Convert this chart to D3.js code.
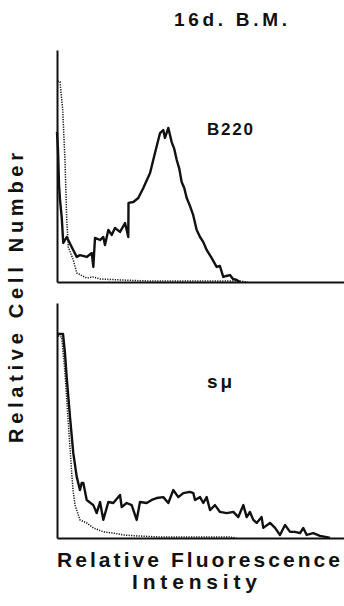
<!DOCTYPE html>
<html>
<head>
<meta charset="utf-8">
<script src="https://cdn.jsdelivr.net/npm/d3@7"></script>
<style>
  body { margin: 0; background: #fff; }
  text { font-family: "Liberation Sans", Arial, sans-serif; font-weight: bold; fill: #111; }
</style>
</head>
<body>
<div id="chart"></div>
<script>
// channel (0-256) and relative count (0-100)
var b220Channel = [0, 0.9, 1.8, 2.7, 4.2, 5.6, 8.7, 13.1, 17.6, 20.5, 26.5, 31.0, 32.4, 33.9, 38.4, 41.3, 42.8, 45.8, 48.8, 51.7, 56.2, 60.7, 63.6, 63.8, 68.1, 72.5, 77.0, 83.0, 87.4, 91.9, 94.8, 96.3, 99.3, 102.3, 104.5, 106.8, 109.0, 111.2, 113.5, 115.7, 118.6, 121.5, 124.6, 127.6, 130.5, 133.5, 138.0, 142.4, 145.3, 148.3, 151.0, 154.3, 157.0, 160.3, 163.2];
var b220Count = [64.7, 56.9, 41.8, 35.3, 28.0, 16.8, 19.4, 15.1, 10.8, 11.6, 10.8, 12.5, 6.5, 19.0, 18.1, 19.4, 15.9, 22.4, 20.3, 23.3, 21.6, 25.4, 19.4, 34.1, 34.5, 36.2, 40.5, 47.0, 55.6, 64.2, 65.5, 62.1, 66.4, 60.3, 57.5, 52.6, 49.0, 43.1, 40.5, 36.2, 32.8, 28.8, 22.4, 19.4, 17.2, 13.8, 10.3, 6.5, 6.9, 2.2, 2.6, 3.0, 1.3, 0.9, 0];

var b220CtrlChannel = [0.5, 2.7, 5.1, 7.1, 8.7, 10.1, 14.5, 17.6, 26.5, 32.0, 38.4, 56.0, 83.0, 163.0, 170.0];
var b220CtrlCount = [86.6, 86.3, 74.1, 52.6, 26.7, 15.1, 9.5, 3.9, 1.7, 2.2, 1.3, 0.9, 0.4, 0.4, 0];

var smuChannel = [0, 5.4, 7.1, 8.7, 11.6, 14.5, 17.6, 20.5, 22.0, 23.5, 26.5, 32.4, 35.4, 38.4, 41.3, 45.8, 50.2, 56.2, 57.7, 62.2, 66.6, 71.1, 74.0, 80.0, 84.5, 88.9, 94.8, 99.3, 103.7, 108.2, 112.7, 118.6, 121.6, 123.1, 127.6, 130.5, 133.5, 136.5, 140.9, 145.4, 151.4, 157.3, 161.7, 166.2, 169.2, 172.1, 175.1, 178.1, 182.5, 184.0, 190.0, 194.5, 198.9, 203.4, 207.9, 212.3, 216.8, 219.7, 222.7, 228.6, 234.6, 240.6, 243.5];
var smuCount = [86.8, 86.8, 78.7, 68.1, 51.5, 36.2, 26.0, 20.4, 23.4, 23.4, 16.2, 14.0, 10.6, 15.3, 7.7, 15.3, 14.9, 18.3, 13.2, 14.9, 14.0, 7.7, 15.3, 14.9, 16.2, 17.0, 17.4, 14.9, 20.4, 17.4, 19.1, 19.6, 19.1, 16.2, 17.4, 14.9, 17.4, 11.9, 14.0, 11.1, 10.6, 11.1, 8.9, 14.0, 8.9, 11.1, 7.7, 6.4, 8.9, 4.3, 6.4, 4.3, 1.3, 5.5, 2.6, 2.6, 2.1, 4.3, 1.3, 2.1, 0.9, 0.4, 0];

var smuCtrlChannel = [0.9, 4.2, 7.1, 10.1, 13.1, 14.3, 16.1, 20.5, 26.5, 32.4, 41.3, 50.2, 59.1, 71.1, 91.9, 154.0, 160.0];
var smuCtrlCount = [86.0, 85.5, 70.2, 48.9, 27.7, 20.4, 14.0, 7.7, 6.4, 4.3, 2.6, 2.1, 1.3, 0.9, 0.4, 0.4, 0];

var panelLabels = ["B220", "s\u00a0\u03bc"];

var svg = d3.select("#chart").append("svg")
  .attr("width", 344)
  .attr("height", 606);

var x = d3.scaleLinear().domain([0, 256]).range([57, 344]);

var panels = [
  { top: 50, bottom: 282, sample: [b220Channel, b220Count], ctrl: [b220CtrlChannel, b220CtrlCount], label: panelLabels[0], lx: 207, ly: 135, lw: 46, fs: 17 },
  { top: 303, bottom: 538, sample: [smuChannel, smuCount], ctrl: [smuCtrlChannel, smuCtrlCount], label: panelLabels[1], lx: 207, ly: 388, lw: 25, fs: 19 }
];

panels.forEach(function(p) {
  var y = d3.scaleLinear().domain([0, 100]).range([p.bottom, p.top]);

  svg.append("g")
    .attr("transform", `translate(0, ${p.bottom})`)
    .call(d3.axisBottom(x).tickValues([]).tickSizeOuter(0))
    .select(".domain").attr("stroke", "#111").attr("stroke-width", 2);

  svg.append("g")
    .attr("transform", `translate(${x(0)}, 0)`)
    .call(d3.axisLeft(y).tickValues([]).tickSizeOuter(0))
    .select(".domain").attr("stroke", "#111").attr("stroke-width", 2);

  var line = d3.line()
    .x(d => x(d[0]))
    .y(d => y(d[1]));

  var ctrlPts = p.ctrl[0].map((c, i) => [c, p.ctrl[1][i]]);
  svg.append("path")
    .attr("d", line(ctrlPts))
    .attr("fill", "none")
    .attr("stroke", "#111")
    .attr("stroke-width", 1.5)
    .attr("stroke-dasharray", "1.2,1.3");

  var pts = p.sample[0].map((c, i) => [c, p.sample[1][i]]);
  svg.append("path")
    .attr("d", line(pts))
    .attr("fill", "none")
    .attr("stroke", "#111")
    .attr("stroke-width", 2.4)
    .attr("stroke-linejoin", "round");

  svg.append("text")
    .attr("x", p.lx)
    .attr("y", p.ly)
    .attr("font-size", p.fs)
    .attr("textLength", p.lw)
    .attr("lengthAdjust", "spacing")
    .text(p.label);
});

// title
svg.append("text")
  .attr("x", 174)
  .attr("y", 26)
  .attr("font-size", 19)
  .attr("textLength", 113)
  .attr("lengthAdjust", "spacing")
  .text("16d.  B.M.");

// axis labels
svg.append("text")
  .attr("transform", "translate(23, 443) rotate(-90)")
  .attr("font-size", 20)
  .attr("textLength", 290)
  .attr("lengthAdjust", "spacing")
  .text("Relative  Cell  Number");

svg.append("text")
  .attr("x", 57)
  .attr("y", 567)
  .attr("font-size", 21)
  .attr("textLength", 283)
  .attr("lengthAdjust", "spacing")
  .text("Relative  Fluorescence");

svg.append("text")
  .attr("x", 132)
  .attr("y", 589)
  .attr("font-size", 21)
  .attr("textLength", 125)
  .attr("lengthAdjust", "spacing")
  .text("Intensity");
</script>
</body>
</html>
